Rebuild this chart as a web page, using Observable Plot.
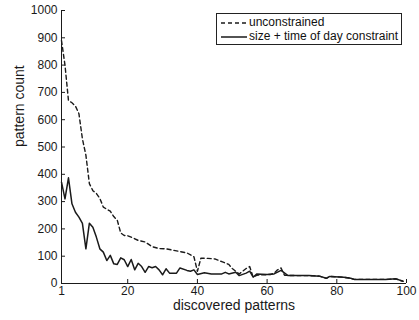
<!DOCTYPE html>
<html>
<head>
<meta charset="utf-8">
<script src="https://cdn.jsdelivr.net/npm/d3@7"></script>
<script src="https://cdn.jsdelivr.net/npm/@observablehq/plot@0.6"></script>
<style>
  html, body { margin: 0; padding: 0; background: #fff; }
  #wrap { position: relative; width: 419px; height: 320px; font-family: "Liberation Sans", Arial, Helvetica, sans-serif; }
  #legend { position: absolute; left: 216px; top: 13px; width: 186px; height: 32px; border: 1px solid #222; background: #fff; font-size: 12px; color: #111; box-sizing: border-box; }
  #legend .row { position: absolute; left: 4px; height: 14px; line-height: 14px; white-space: nowrap; }
  #legend svg { vertical-align: middle; margin-right: 2px; }
</style>
</head>
<body>
<div id="wrap"></div>
<script>
// unconstrained (dashed)
const unconX = [1,2,3,4,5,6,7,8,9,10,11,12,13,14,15,16,17,18,19,20,21,23,25,27,29,31,33,35,37,39,40,41,43,45,47,49,50,51,52,53,54,55,56,57,59,61,62,63,64,65,68,72,75,77,78,82,84,85,89,94,97,99];
const unconY = [890,800,670,662,650,622,530,470,366,340,330,312,280,272,265,245,232,185,176,175,170,158,152,135,128,127,122,117,112,98,45,93,92,90,80,70,55,45,35,45,55,62,23,30,32,33,38,50,57,30,29,29,27,19,26,23,19,15,15,15,17,8];
// size + time of day constraint (solid)
const consX = [1,2,3,4,5,6,7,8,9,10,11,12,13,14,15,16,17,18,19,20,21,22,23,24,25,26,27,28,29,30,31,32,34,35,37,38,39,40,42,44,47,48,49,51,52,54,55,56,57,60,62,64,66,72,75,77,78,82,84,85,89,94,97,99];
const consY = [371,310,387,292,261,243,220,127,221,206,170,127,115,84,103,72,70,94,87,62,88,50,74,62,41,62,58,62,50,32,54,38,38,57,48,45,50,33,39,35,35,41,35,41,29,38,45,23,35,33,35,48,29,29,27,19,26,23,19,15,15,15,17,8];
const xTicks = [1,20,40,60,80,100];
const yTicks = [0,100,200,300,400,500,600,700,800,900,1000];
const seriesNames = ["unconstrained", "size + time of day constraint"];
const xLabel = "discovered patterns";
const yLabel = "pattern count";

const uncon = unconX.map((x, i) => ({x, y: unconY[i]}));
const cons = consX.map((x, i) => ({x, y: consY[i]}));

const ink = "#1a1a1a";
const chart = Plot.plot({
  width: 419,
  height: 320,
  marginLeft: 61,
  marginRight: 13,
  marginTop: 10,
  marginBottom: 37,
  style: {fontFamily: '"Liberation Sans", Arial, Helvetica, sans-serif', fontSize: "12px", color: ink, background: "#fff"},
  x: {domain: [1, 100]},
  y: {domain: [0, 1000]},
  marks: [
    Plot.ruleX([1], {stroke: ink, strokeWidth: 1}),
    Plot.ruleY([0], {stroke: ink, strokeWidth: 1}),
    Plot.axisX({ticks: xTicks, tickSize: -4, tickPadding: 7, tickFormat: d => String(d), fontSize: 12, label: null}),
    Plot.axisY({ticks: yTicks, tickSize: -4, tickPadding: 8, tickFormat: d => String(d), fontSize: 12, label: null}),
    Plot.text([xLabel], {frameAnchor: "bottom", text: d => d, dy: 26.5, fontSize: 14, fill: ink}),
    Plot.text([yLabel], {frameAnchor: "left", text: d => d, dx: -42, rotate: -90, fontSize: 14, fill: ink}),
    Plot.line(uncon, {x: "x", y: "y", stroke: ink, strokeWidth: 1.4, strokeDasharray: "4,3"}),
    Plot.line(cons, {x: "x", y: "y", stroke: ink, strokeWidth: 1.5})
  ]
});
const wrap = document.getElementById("wrap");
wrap.appendChild(chart);
const leg = document.createElement("div");
leg.id = "legend";
leg.innerHTML =
  `<div class="row" style="top:1px"><svg width="26" height="6"><line x1="0" y1="3" x2="26" y2="3" stroke="${ink}" stroke-width="1.4" stroke-dasharray="4,3"/></svg>${seriesNames[0]}</div>` +
  `<div class="row" style="top:15px"><svg width="26" height="6"><line x1="0" y1="3" x2="26" y2="3" stroke="${ink}" stroke-width="1.5"/></svg>${seriesNames[1]}</div>`;
wrap.appendChild(leg);
</script>
</body>
</html>
